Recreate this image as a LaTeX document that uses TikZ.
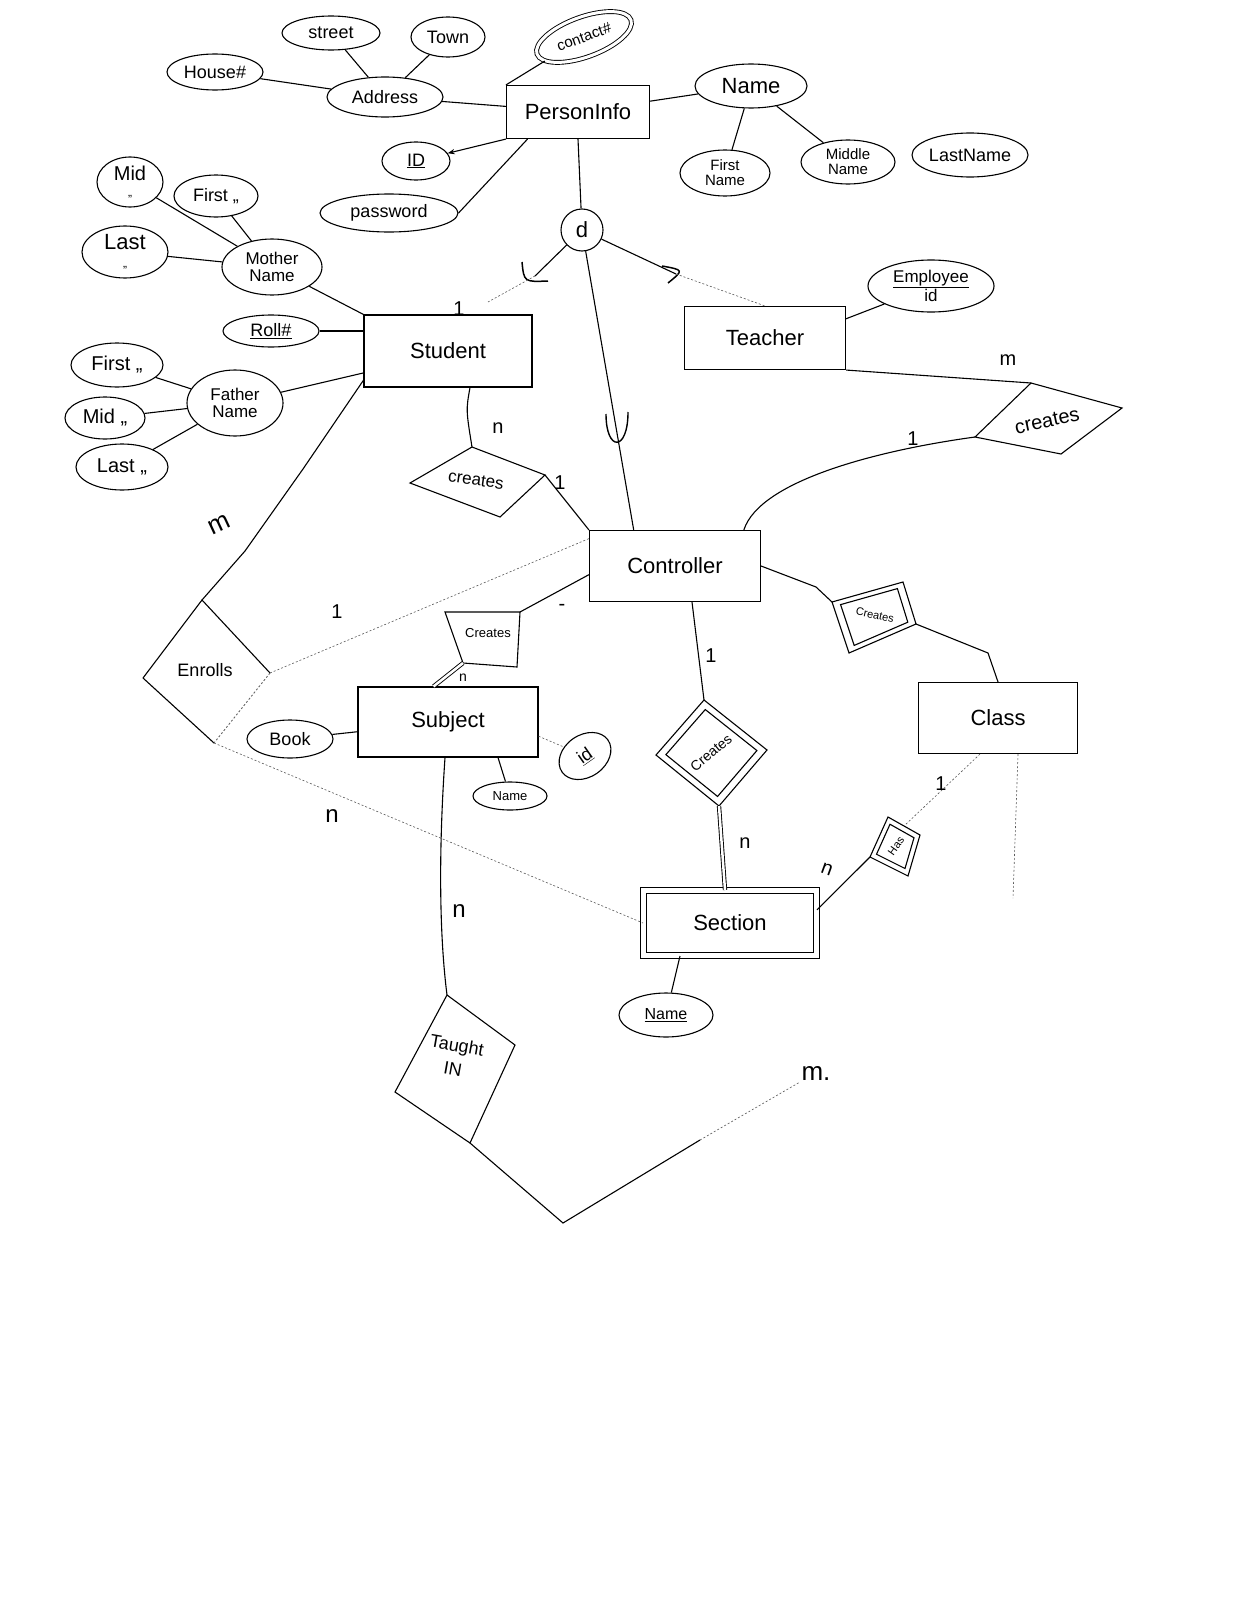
\documentclass[tikz,border=0pt]{standalone}
\usepackage{fontspec}
\setmainfont{Liberation Sans}
\usetikzlibrary{shapes.geometric,calc,arrows.meta}
\newcommand\fsz[1]{\fontsize{#1}{#1}\selectfont}
\begin{document}
\begin{tikzpicture}[x=1pt,y=-1pt,
  line width=1.1pt,
  ent/.style={draw, rectangle, inner sep=0pt, font=\fsz{22}},
  attr/.style={draw, ellipse, inner sep=0pt, font=\fsz{18}, align=center},
  rel/.style={font=\fsz{17}, align=center, inner sep=0pt},
  card/.style={font=\fsz{20}, inner sep=0pt},
  faint/.style={line width=0.6pt, dash pattern=on 2pt off 2pt, black!65},
  dbl/.style={double, double distance=2.5pt, line width=0.9pt},
]
\fill[white] (0,0) rectangle (1253,1600);
\useasboundingbox (0,0) rectangle (1253,1600);

% ---------- PersonInfo and attributes
\node[ent, minimum width=143pt, minimum height=53pt] (person) at (578,112) {PersonInfo};
\node[attr, minimum width=116pt, minimum height=40pt] (address) at (385,97) {Address};
\node[attr, minimum width=98pt, minimum height=34pt] (street) at (331,33) {street};
\node[attr, minimum width=74pt, minimum height=40pt] (town) at (448,37) {Town};
\node[attr, minimum width=96pt, minimum height=36pt] (house) at (215,72) {House\#};
\node[attr, double, double distance=3pt, line width=0.9pt, minimum width=100pt, minimum height=40pt, rotate=20, font=\fsz{15}] (contact) at (584,37) {contact\#};
\node[attr, minimum width=68pt, minimum height=38pt] (id) at (416,161) {\underline{ID}};
\node[attr, minimum width=138pt, minimum height=38pt] (password) at (389,213) {password};
\node[attr, minimum width=112pt, minimum height=44pt, font=\fsz{22}] (name) at (751,86) {Name};
\node[attr, minimum width=90pt, minimum height=46pt, font=\fsz{15}] (fname) at (725,173) {First\\Name};
\node[attr, minimum width=94pt, minimum height=44pt, font=\fsz{15}] (mname) at (848,162) {Middle\\Name};
\node[attr, minimum width=110pt, minimum height=44pt, font=\fsz{18}] (lname) at (970,155) {LastName};

\draw (house) -- (address);
\draw (street) -- (address);
\draw (town) -- (address);
\draw (address) -- (person);
\draw (contact) -- (person.north west);
\draw[-{Stealth[length=7pt]}] (person.south west) -- (id);
\draw (password.east) -- ($(person.south west)!0.15!(person.south east)$);
\draw (person) -- (name);
\draw (name) -- (fname);
\draw (name) -- (mname);

% ---------- specialisation circle
\node[draw, circle, minimum size=42pt, inner sep=0pt, font=\fsz{22}] (d) at (582,230) {d};
\draw (person.south) -- (d);

% ---------- Student and attributes
\node[ent, minimum width=168pt, minimum height=72pt] (student) at (448,351) {Student};
\node[attr, minimum width=100pt, minimum height=56pt, font=\fsz{17}] (mother) at (272,267) {Mother\\Name};
\node[attr, minimum width=66pt, minimum height=50pt, font=\fsz{20}] (mid1) at (130,182) {Mid\\[-4pt]{\fsz{12},,}};
\node[attr, minimum width=84pt, minimum height=42pt] (first1) at (216,196) {First ,,};
\node[attr, minimum width=86pt, minimum height=52pt, font=\fsz{22}] (last1) at (125,252) {Last\\[-4pt]{\fsz{12},,}};
\node[attr, minimum width=96pt, minimum height=32pt] (roll) at (271,331) {\underline{Roll\#}};
\node[attr, minimum width=92pt, minimum height=44pt, font=\fsz{20}] (firstf) at (117,365) {First ,,};
\node[attr, minimum width=96pt, minimum height=66pt, font=\fsz{17}] (father) at (235,403) {Father\\Name};
\node[attr, minimum width=80pt, minimum height=42pt, font=\fsz{20}] (midf) at (105,418) {Mid ,,};
\node[attr, minimum width=92pt, minimum height=46pt, font=\fsz{20}] (lastf) at (122,467) {Last ,,};

\draw (mid1) -- (mother);
\draw (first1) -- (mother);
\draw (last1) -- (mother);
\draw (mother) -- (student.north west);
\draw (roll) -- (roll -| student.west);
\draw (firstf) -- (father);
\draw (midf) -- (father);
\draw (lastf) -- (father);
\draw (father) -- ($(student.north west)!0.8!(student.south west)$);

% ---------- Teacher
\node[ent, minimum width=161pt, minimum height=63pt] (teacher) at (765,338) {Teacher};
\node[attr, minimum width=126pt, minimum height=52pt, font=\fsz{17}] (empid) at (931,286) {\underline{Employee}\\id};
\draw ($(teacher.north east)!0.2!(teacher.south east)$) -- (empid);

% ---------- Controller
\node[ent, minimum width=171pt, minimum height=71pt] (controller) at (675,566) {Controller};

% specialisation links
\coordinate (subS) at (535,276);
\coordinate (endS) at (488,302);
\draw (d) -- (subS);
\draw[line width=1.5pt] (522,262) .. controls (524,282) .. (548,281);
\draw[faint] (subS) -- (endS);
\coordinate (subT) at (676,274);
\draw (d) -- (subT);
\draw[line width=1.5pt] (662,266) .. controls (684,270) .. (668,283);
\draw[faint] (subT) -- (teacher.north);
\coordinate (ctrlTop) at ($(controller.north west)!0.26!(controller.north east)$);
\draw (d) -- (ctrlTop);
\draw[line width=1.4pt] (606,414) .. controls (606,452) and (628,452) .. (628,412);

% ---------- Student creates (cs)
\coordinate (cs-t) at (472,447);
\coordinate (cs-r) at (545,475);
\coordinate (cs-b) at (500,517);
\coordinate (cs-l) at (410,483);
\draw (cs-t) -- (cs-r) -- (cs-b) -- (cs-l) -- cycle;
\node[rel, rotate=-8] (csl) at (476,480) {creates};
\draw ($(student.south)+(22,0)$) .. controls (466,410) .. (cs-t);
\draw (cs-r) -- (controller.north west);

% ---------- Teacher creates (ct)
\coordinate (ct-t) at (1031,383);
\coordinate (ct-r) at (1122,408);
\coordinate (ct-b) at (1061,454);
\coordinate (ct-l) at (975,437);
\draw (ct-t) -- (ct-r) -- (ct-b) -- (ct-l) -- cycle;
\node[rel, rotate=12, font=\fsz{20}] (ctl) at (1047,421) {creates};
\draw (teacher.south east) -- (ct-t);
\draw (ct-l) .. controls (880,450) and (760,480) .. ($(controller.north east)!0.1!(controller.north west)$);

% ---------- Enrolls (en)
\coordinate (en-t) at (202,600);
\coordinate (en-r) at (270,673);
\coordinate (en-b) at (214,743);
\coordinate (en-l) at (143,678);
\draw (en-l) -- (en-t) -- (en-r);
\draw (en-l) -- (en-b);
\draw[faint, line width=0.8pt] (en-r) -- (en-b);
\node[rel, font=\fsz{18}] (enl) at (205,670) {Enrolls};
\coordinate (stuOut) at ($(student.north west)!0.9!(student.south west)$);
\draw (stuOut) -- (303,469) -- (245,551) -- (en-t);
\draw[faint] (en-r) -- ($(controller.north west)!0.12!(controller.south west)$);

% ---------- Subject
\node[ent, minimum width=180pt, minimum height=70pt] (subject) at (448,722) {Subject};
\node[attr, minimum width=86pt, minimum height=38pt] (book) at (290,739) {Book};
\node[attr, minimum width=56pt, minimum height=42pt, rotate=35] (subjid) at (585,756) {\underline{id}};
\node[attr, minimum width=74pt, minimum height=28pt, font=\fsz{13}] (subjname) at (510,796) {Name};
\draw (book) -- (subject);
\draw[faint] ($(subject.north east)!0.7!(subject.south east)$) -- (subjid);
\draw ($(subject.south)+(50,0)$) -- (subjname);

% ---------- Subject creates (cj)
\coordinate (cj-tl) at (445,612);
\coordinate (cj-tr) at (520,612);
\coordinate (cj-br) at (517,667);
\coordinate (cj-bl) at (463,663);
\draw (cj-tl) -- (cj-tr) -- (cj-br) -- (cj-bl) -- cycle;
\node[rel, font=\fsz{13}] (cjl) at (488,633) {Creates};
\draw (cj-tr) -- ($(controller.north west)!0.62!(controller.south west)$);
\draw[dbl] (cj-bl) -- ($(subject.north west)!0.42!(subject.north east)$);

% ---------- Section
\node[ent, minimum width=173pt, minimum height=65pt, double, double distance=5pt, line width=1pt] (section) at (730,923) {Section};
\node[attr, minimum width=94pt, minimum height=44pt, font=\fsz{16}] (secname) at (666,1015) {\underline{Name}};
\draw ($(section.south)+(-50,0)$) -- (secname);

% ---------- Controller-Section creates (cn, double)
\coordinate (cn-t) at (704,700);
\coordinate (cn-r) at (767,750);
\coordinate (cn-b) at (719,806);
\coordinate (cn-l) at (656,755);
\coordinate (cn-c) at (711,753);
\draw (cn-t) -- (cn-r) -- (cn-b) -- (cn-l) -- cycle;
\draw ($(cn-c)!0.82!(cn-t)$) -- ($(cn-c)!0.82!(cn-r)$) -- ($(cn-c)!0.82!(cn-b)$) -- ($(cn-c)!0.82!(cn-l)$) -- cycle;
\node[rel, rotate=40, font=\fsz{14}] (cnl) at (cn-c) {Creates};
\draw ($(controller.south)+(17,0)$) -- (cn-t);
\draw[dbl] (cn-b) -- ($(section.north)+(-5,0)$);

% ---------- Class
\node[ent, minimum width=159pt, minimum height=71pt] (class) at (998,718) {Class};

% Controller-Class creates (cc, double)
\coordinate (cc-a) at (832,602);
\coordinate (cc-b) at (903,582);
\coordinate (cc-c) at (916,624);
\coordinate (cc-d) at (849,653);
\coordinate (cc-m) at (875,615);
\draw (cc-a) -- (cc-b) -- (cc-c) -- (cc-d) -- cycle;
\draw ($(cc-m)!0.8!(cc-a)$) -- ($(cc-m)!0.8!(cc-b)$) -- ($(cc-m)!0.8!(cc-c)$) -- ($(cc-m)!0.8!(cc-d)$) -- cycle;
\node[rel, rotate=-12, font=\fsz{11}] (ccl) at (cc-m) {Creates};
\draw ($(controller.north east)!0.5!(controller.south east)$) -- (816,587) -- (cc-a);
\draw (cc-c) -- (988,653) -- (class.north);

% Has (hs, double)
\coordinate (hs-t) at (888,817);
\coordinate (hs-r) at (920,835);
\coordinate (hs-b) at (908,876);
\coordinate (hs-l) at (870,857);
\coordinate (hs-c) at (896,846);
\draw (hs-t) -- (hs-r) -- (hs-b) -- (hs-l) -- cycle;
\draw ($(hs-c)!0.75!(hs-t)$) -- ($(hs-c)!0.75!(hs-r)$) -- ($(hs-c)!0.75!(hs-b)$) -- ($(hs-c)!0.75!(hs-l)$) -- cycle;
\node[rel, rotate=55, font=\fsz{11}] (hsl) at (hs-c) {Has};
\draw[faint] ($(class.south)+(-18,0)$) -- ($(hs-t)!0.5!(hs-r)$);
\draw (hs-l) -- ($(section.north east)!0.3!(section.south east)$);
\coordinate (classEnd) at (1013,898);
\draw[faint] ($(class.south)+(20,0)$) -- (classEnd);

% Enrolls -> Section
\draw[faint] (en-b) -- (section.west);

% ---------- Taught IN (tg)
\coordinate (tg-t) at (447,995);
\coordinate (tg-r) at (515,1045);
\coordinate (tg-b) at (470,1143);
\coordinate (tg-l) at (395,1092);
\draw (tg-t) -- (tg-r) -- (tg-b) -- (tg-l) -- cycle;
\node[rel, rotate=-10, font=\fsz{18}] (tgl) at (455,1057) {Taught\\[6pt]IN};
\draw ($(subject.south)+(-3,0)$) .. controls (438,860) and (440,940) .. (tg-t);
\coordinate (tgEnd) at (800,1082);
\draw (tg-b) -- (563,1223) -- (700,1140);
\draw[faint] (700,1140) -- (tgEnd);

% ---------- cardinalities
\node[card] (c1) at (459,309) {1};
\node[card] (c2) at (498,428) {n};
\node[card] (c3) at (560,483) {1};
\node[card] (c4) at (1008,360) {m};
\node[card] (c5) at (913,439) {1};
\node[card, font=\fsz{26}, rotate=25] (c6) at (219,525) {m};
\node[card] (c7) at (337,612) {1};
\node[card, font=\fsz{24}] (c8) at (332,816) {n};
\node[card] (c9) at (562,607) {-};
\node[card, font=\fsz{14}] (c10) at (463,678) {n};
\node[card] (c11) at (711,656) {1};
\node[card] (c12) at (745,843) {n};
\node[card] (c13) at (941,784) {1};
\node[card, rotate=-20] (c14) at (827,869) {n};
\node[card, font=\fsz{24}] (c15) at (459,911) {n};
\node[card, font=\fsz{26}] (c16) at (816,1073) {m.};
\end{tikzpicture}
\end{document}
